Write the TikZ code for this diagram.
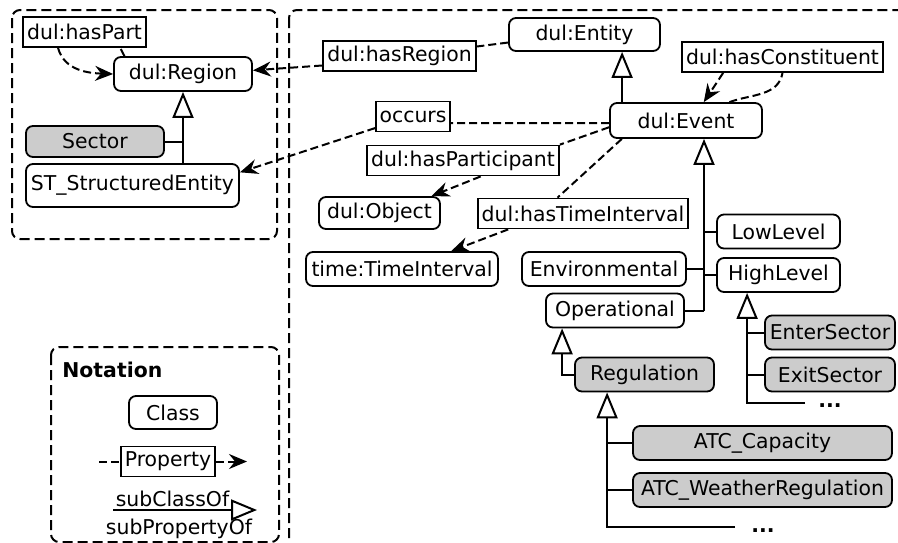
\documentclass[tikz,border=0pt]{standalone}
\usepackage{fontspec}
\setmainfont{DejaVu Sans}
\usetikzlibrary{arrows.meta,calc}

\begin{document}
\begin{tikzpicture}[x=0.5pt,y=0.5pt]
\tikzstyle{every node}=[font=\fontsize{10.2}{12}\selectfont]
\tikzstyle{cls}=[draw,rounded corners=3.5pt,fill=white,line width=0.9pt,inner sep=0pt,minimum height=17pt]
\tikzstyle{sub}=[cls,fill=gray!40]
\tikzstyle{prop}=[draw,fill=white,line width=0.9pt,inner sep=0pt,minimum height=15pt]
\tikzstyle{rel}=[dash pattern=on 4pt off 2pt,line width=1pt]
\tikzstyle{relto}=[rel,-{Stealth[length=9pt,width=7.5pt,inset=3pt]}]
\tikzstyle{isa}=[line width=1pt,-{Triangle[open,length=13pt,width=10.5pt]}]
\tikzstyle{link}=[line width=1pt]
\tikzstyle{frame}=[dash pattern=on 5pt off 2.5pt,line width=1pt,rounded corners=4pt]
\useasboundingbox (0,0) rectangle (898,-542);
\clip (0,0) rectangle (898,-542);

% frames
\draw[frame] (12,-10) rectangle (277,-239);
\draw[frame] (289,-10) rectangle (910,-560);
\draw[frame] (51,-347) rectangle (279,-542);

% region side
\node[prop,minimum width=61.5pt] (haspart) at (84.5,-32) {dul:hasPart};
\node[cls,minimum width=69pt] (region) at (183,-74) {dul:Region};
\node[sub,minimum width=69pt,minimum height=15.5pt] (sector) at (95,-141.5) {Sector};
\node[cls,minimum width=106.5pt,minimum height=21.5pt] (st) at (132.5,-185.5) {ST\_StructuredEntity};

% event side
\node[cls,minimum width=75.5pt,minimum height=16.5pt] (entity) at (584.5,-34.5) {dul:Entity};
\node[prop,minimum width=76.5pt] (hasregion) at (399.5,-56) {dul:hasRegion};
\node[prop,minimum width=100.5pt] (hascons) at (782.5,-57) {dul:hasConstituent};
\node[cls,minimum width=76pt,minimum height=17.5pt] (event) at (686,-120.5) {dul:Event};
\node[prop,minimum width=37pt] (occurs) at (413,-116.5) {occurs};
\node[prop,minimum width=96pt] (haspartic) at (463,-160.5) {dul:hasParticipant};
\node[cls,minimum width=60.5pt,minimum height=16pt] (object) at (379.5,-213) {dul:Object};
\node[prop,minimum width=105pt] (hastime) at (583,-213.5) {dul:hasTimeInterval};
\node[cls,minimum width=96pt] (timeint) at (402,-269) {time:TimeInterval};
\node[cls,minimum width=82pt] (environ) at (604,-269) {Environmental};
\node[cls,minimum width=69pt] (operat) at (615,-310.5) {Operational};
\node[cls,minimum width=61.5pt] (lowlevel) at (778.5,-231.5) {LowLevel};
\node[cls,minimum width=61.5pt] (highlevel) at (778.5,-275) {HighLevel};
\node[sub,minimum width=69.5pt] (regul) at (644.5,-374.5) {Regulation};
\node[sub,minimum width=65pt] (enter) at (830,-332.5) {EnterSector};
\node[sub,minimum width=65pt] (exit) at (830,-374.5) {ExitSector};
\node[font=\fontsize{10.2}{12}\selectfont\bfseries,inner sep=0pt] (dotshl) at (830,-406) {...};
\node[sub,minimum width=129.5pt] (atccap) at (762.5,-443) {ATC\_Capacity};
\node[sub,minimum width=129.5pt] (atcweather) at (762.5,-490) {ATC\_WeatherRegulation};
\node[font=\fontsize{10.2}{12}\selectfont\bfseries,inner sep=0pt] (dotsreg) at (763,-531) {...};

% properties
\draw[rel] (region.163) -- (haspart.336);
\draw[relto] (haspart.211) to[out=-75,in=178] (region.west);
\draw[rel] (entity.186) -- (hasregion.7);
\draw[relto] (hasregion.187) -- (region.3);
\draw[rel] (event.182) -- (occurs.350);
\draw[relto] (occurs.197) -- (st.7);
\draw[rel] (event.185) -- (haspartic.north east);
\draw[relto] (haspartic.318) -- (object.18);
\draw[rel] (event.196) -- (hastime.148);
\draw[relto] (hastime.192) -- (timeint.20);
\draw[relto] (hascons.195) -- (event.46);
\draw[rel] (event.23) to[out=20,in=-100] (hascons.south);

% subclasses
\draw[isa] (st.north -| region.south) -- (region.south);
\draw[link] (sector.east) -- (sector.east -| region.south);
\coordinate (evtop) at ($(event.north west)+(13,0)$);
\draw[isa] (evtop) -- (evtop |- entity.south);
\coordinate (evbot) at ($(event.south)+(18,0)$);
\draw[isa] (evbot |- operat.east) -- (evbot);
\draw[link] (operat.east) -- (operat.east -| evbot);
\draw[link] (environ.east) -- (environ.east -| evbot);
\draw[link] (lowlevel.west) -- (lowlevel.west -| evbot);
\draw[link] (highlevel.west) -- (highlevel.west -| evbot);
\coordinate (opbot) at ($(operat.south west)+(17,0)$);
\draw[isa] (regul.west) -| (opbot);
\coordinate (hlbot) at ($(highlevel.south west)+(31,0)$);
\coordinate (hlend) at (805,-403);
\draw[isa] (hlend) -| (hlbot);
\draw[link] (enter.west) -- (enter.west -| hlbot);
\draw[link] (exit.west) -- (exit.west -| hlbot);
\coordinate (regbot) at ($(regul.south west)+(33,0)$);
\coordinate (regend) at (735,-527);
\draw[isa] (regend) -| (regbot);
\draw[link] (atccap.west) -- (atccap.west -| regbot);
\draw[link] (atcweather.west) -- (atcweather.west -| regbot);

% notation
\node[font=\fontsize{10.2}{12}\selectfont\bfseries,inner sep=0pt,anchor=west] (nottitle) at (62,-370) {Notation};
\node[cls,minimum width=44pt,minimum height=16.5pt] (class) at (173,-412.5) {Class};
\node[prop,minimum width=47pt] (property) at (168,-461.5) {Property};
\coordinate (propin) at (99,-461.5);
\coordinate (propout) at (247,-461.5);
\draw[rel] (propin) -- (property.west);
\draw[relto] (property.east) -- (propout);
\coordinate (subin) at (113,-510);
\coordinate (subout) at (257,-510);
\draw[isa] (subin) -- (subout);
\node[inner sep=0pt] (subcls) at (172.5,-499) {subClassOf};
\node[inner sep=0pt] (subprop) at (179,-529) {subPropertyOf};

\end{tikzpicture}
\end{document}
